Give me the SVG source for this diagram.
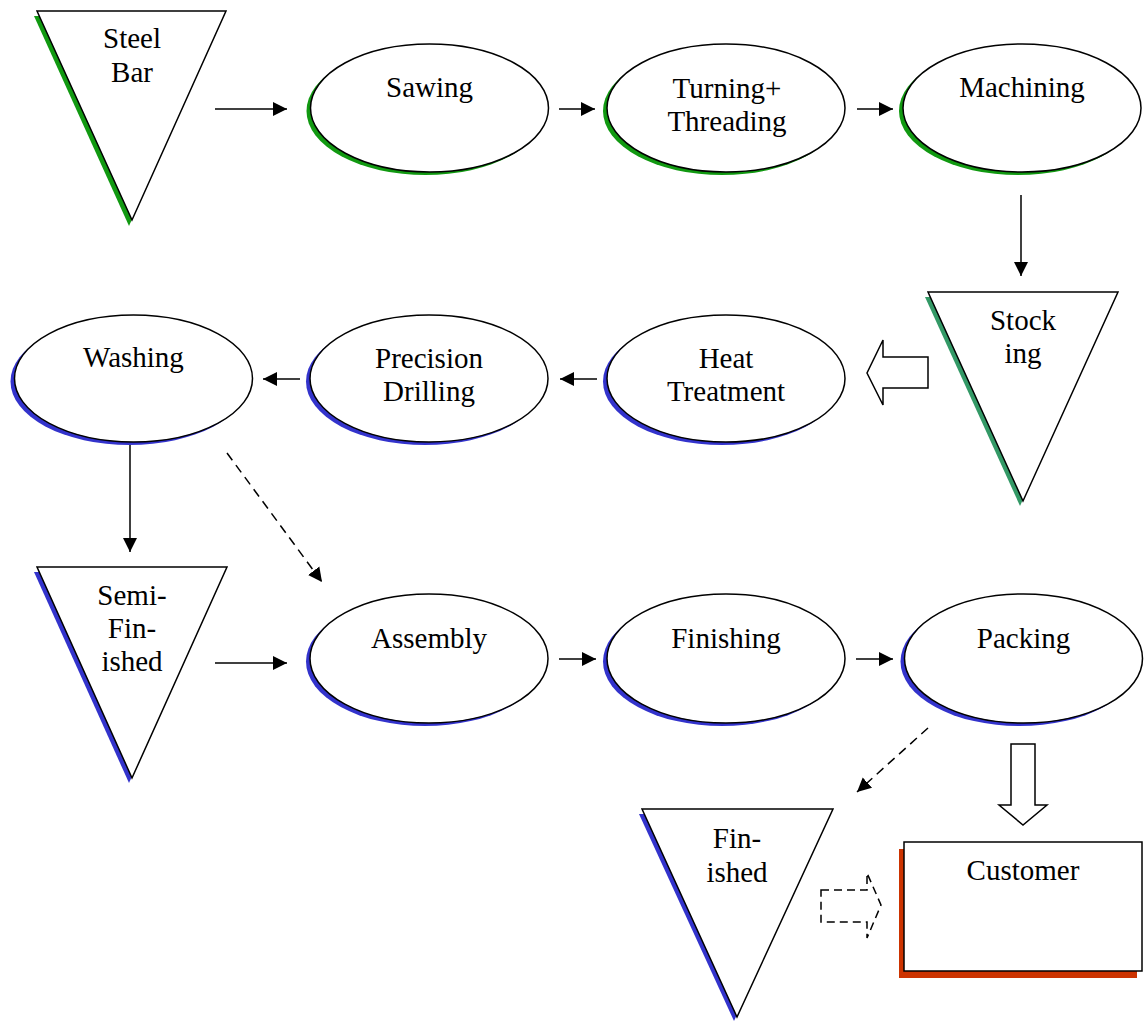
<svg xmlns="http://www.w3.org/2000/svg" width="1144" height="1021" viewBox="0 0 1144 1021" font-family="'Liberation Serif', 'DejaVu Serif', serif">
<defs>
<marker id="ah" markerUnits="userSpaceOnUse" markerWidth="16" markerHeight="16" viewBox="0 0 16 16" refX="14" refY="8" orient="auto">
<path d="M0,1 L14,8 L0,15 Z" fill="#000"/>
</marker>
</defs>
<style>
text{font-family:'Liberation Serif',serif;font-size:29px;fill:#000;text-anchor:middle}
.shape{fill:#fff;stroke:#000;stroke-width:1.5}
.g{fill:#119911}
.b{fill:#3333cc}
.t{fill:#339966}
.r{fill:#cc3300}
.conn{stroke:#000;stroke-width:1.5;fill:none;marker-end:url(#ah)}
.dash{stroke-dasharray:9,6}
.block{fill:#fff;stroke:#000;stroke-width:1.5}
</style>
<rect width="1144" height="1021" fill="#fff"/>

<g id="steel-bar">
<polygon class="g" points="34,16 223,16 129,226"/>
<polygon class="shape" points="37,11 226,11 132,220"/>
<text x="132" y="48">Steel</text>
<text x="132" y="82">Bar</text>
</g>
<g id="sawing">
<ellipse class="g" cx="425.5" cy="111" rx="119" ry="64"/>
<ellipse class="shape" cx="429.5" cy="108" rx="119" ry="64"/>
<text x="429.5" y="97">Sawing</text>
</g>
<g id="turning-threading">
<ellipse class="g" cx="722" cy="111" rx="119" ry="64"/>
<ellipse class="shape" cx="726" cy="108" rx="119" ry="64"/>
<text x="727" y="98">Turning+</text>
<text x="727" y="131">Threading</text>
</g>
<g id="machining">
<ellipse class="g" cx="1018" cy="111" rx="119" ry="64"/>
<ellipse class="shape" cx="1022" cy="108" rx="119" ry="64"/>
<text x="1022" y="97">Machining</text>
</g>
<g id="stocking">
<polygon class="t" points="925,297 1115,297 1020,506"/>
<polygon class="shape" points="928,292 1118,292 1023,501"/>
<text x="1023" y="330">Stock</text>
<text x="1023" y="363">ing</text>
</g>
<g id="heat-treatment">
<ellipse class="b" cx="722" cy="381.5" rx="119" ry="63.5"/>
<ellipse class="shape" cx="726" cy="378.5" rx="119" ry="63.5"/>
<text x="726" y="368">Heat</text>
<text x="726" y="401">Treatment</text>
</g>
<g id="precision-drilling">
<ellipse class="b" cx="425" cy="381.5" rx="119" ry="63.5"/>
<ellipse class="shape" cx="429" cy="378.5" rx="119" ry="63.5"/>
<text x="429" y="368">Precision</text>
<text x="429" y="401">Drilling</text>
</g>
<g id="washing">
<ellipse class="b" cx="129.5" cy="381.5" rx="119" ry="63.5"/>
<ellipse class="shape" cx="133.5" cy="378.5" rx="119" ry="63.5"/>
<text x="133.5" y="367">Washing</text>
</g>
<g id="semi-finished">
<polygon class="b" points="34,572 224,572 129,783"/>
<polygon class="shape" points="37,567 227,567 132,778"/>
<text x="132" y="605">Semi-</text>
<text x="132" y="638">Fin-</text>
<text x="132" y="671">ished</text>
</g>
<g id="assembly">
<ellipse class="b" cx="425" cy="661.5" rx="119" ry="64.5"/>
<ellipse class="shape" cx="429" cy="658.5" rx="119" ry="64.5"/>
<text x="429" y="648">Assembly</text>
</g>
<g id="finishing">
<ellipse class="b" cx="722" cy="661.5" rx="119" ry="64.5"/>
<ellipse class="shape" cx="726" cy="658.5" rx="119" ry="64.5"/>
<text x="726" y="648">Finishing</text>
</g>
<g id="packing">
<ellipse class="b" cx="1019.5" cy="661.5" rx="119" ry="64.5"/>
<ellipse class="shape" cx="1023.5" cy="658.5" rx="119" ry="64.5"/>
<text x="1023.5" y="648">Packing</text>
</g>
<g id="finished">
<polygon class="b" points="639,814 830,814 734,1021"/>
<polygon class="shape" points="642,809 833,809 737,1017"/>
<text x="737" y="848">Fin-</text>
<text x="737" y="882">ished</text>
</g>
<g id="customer">
<rect class="r" x="899" y="849" width="238" height="129"/>
<rect class="shape" x="904" y="842" width="238" height="129"/>
<text x="1023" y="880">Customer</text>
</g>

<g id="connectors">
<line class="conn" x1="215" y1="109" x2="287" y2="109"/>
<line class="conn" x1="559" y1="109" x2="595" y2="109"/>
<line class="conn" x1="857" y1="109" x2="893" y2="109"/>
<line class="conn" x1="1021" y1="195" x2="1021" y2="276"/>
<polygon class="block" points="928,357 883,357 883,340 867,373 883,405 883,388 928,388"/>
<line class="conn" x1="597" y1="379" x2="560" y2="379"/>
<line class="conn" x1="300" y1="379" x2="263" y2="379"/>
<line class="conn" x1="130" y1="445" x2="130" y2="552"/>
<line class="conn dash" x1="227" y1="453" x2="322" y2="582"/>
<line class="conn" x1="215" y1="663" x2="287" y2="663"/>
<line class="conn" x1="559" y1="659" x2="596" y2="659"/>
<line class="conn" x1="856" y1="659" x2="893" y2="659"/>
<line class="conn dash" x1="928" y1="728" x2="857" y2="792"/>
<polygon class="block" points="1011,744 1035,744 1035,805 1047,805 1023,825 999,805 1011,805"/>
<polygon class="block" stroke-dasharray="8,5" points="821,890 867,890 867,873 881,905 867,938 867,922 821,922"/>
</g>
</svg>
